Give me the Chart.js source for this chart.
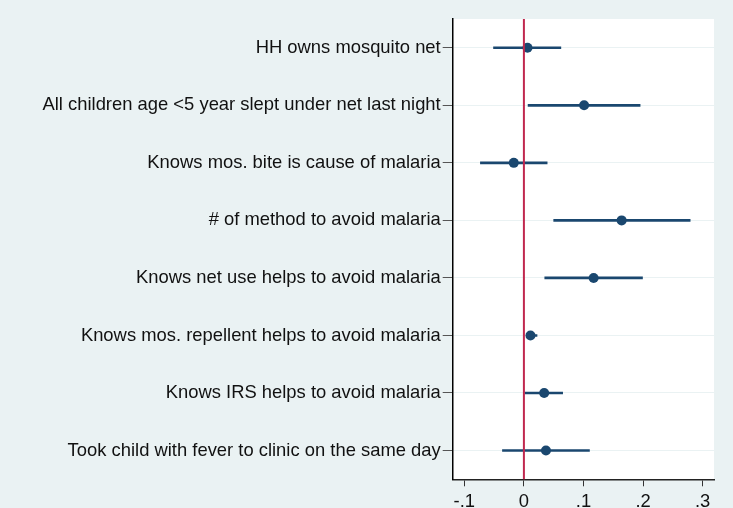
<!DOCTYPE html>
<html>
<head>
<meta charset="utf-8">
<script src="https://cdn.jsdelivr.net/npm/chart.js@4.4.0/dist/chart.umd.min.js"></script>
<style>
    html, body { margin: 0; padding: 0; background: #eaf2f3; overflow: hidden; }
    #wrap { width: 733px; height: 508px; }
</style>
</head>
<body>
<div id="wrap"><canvas id="coefChart"></canvas></div>
<script>
// =====================
// DATOS
// =====================
const categorias = [
    "HH owns mosquito net",
    "All children age <5 year slept under net last night",
    "Knows mos. bite is cause of malaria",
    "# of method to avoid malaria",
    "Knows net use helps to avoid malaria",
    "Knows mos. repellent helps to avoid malaria",
    "Knows IRS helps to avoid malaria",
    "Took child with fever to clinic on the same day"
];
const coef    = [0.006, 0.101, -0.017, 0.164, 0.117, 0.011, 0.034, 0.037];
const ciBajo  = [-0.051, 0.007, -0.073, 0.050, 0.035, 0.004, 0.002, -0.036];
const ciAlto  = [0.062, 0.195, 0.039, 0.279, 0.199, 0.022, 0.065, 0.110];
const xTicks  = [-0.1, 0, 0.1, 0.2, 0.3];

// =====================
// PLUGINS
// =====================
const fondoBlanco = {
    id: "fondoBlanco",
    beforeDraw(chart) {
        const { ctx, chartArea: a } = chart;
        ctx.save();
        ctx.fillStyle = "#ffffff";
        ctx.fillRect(a.left, a.top, a.right - a.left, a.bottom - a.top);
        ctx.restore();
    }
};

const lineaCero = {
    id: "lineaCero",
    afterDatasetsDraw(chart) {
        const { ctx, chartArea: a, scales } = chart;
        const x = scales.x.getPixelForValue(0);
        ctx.save();
        ctx.strokeStyle = "#c0284f";
        ctx.lineWidth = 2;
        ctx.beginPath();
        ctx.moveTo(x, a.top);
        ctx.lineTo(x, a.bottom);
        ctx.stroke();
        ctx.restore();
    }
};

// =====================
// GRAFICO
// =====================
new Chart(document.getElementById("coefChart"), {
    type: "bar",
    data: {
        labels: categorias,
        datasets: [
            {
                type: "line",
                label: "coef",
                data: coef,
                showLine: false,
                pointRadius: 5,
                pointBackgroundColor: "#1a476f",
                pointBorderColor: "#1a476f",
                pointBorderWidth: 0,
                order: 0
            },
            {
                label: "IC",
                data: ciBajo.map((lo, i) => [lo, ciAlto[i]]),
                backgroundColor: "#1a476f",
                borderWidth: 0,
                barThickness: 2,
                order: 1
            }
        ]
    },
    options: {
        indexAxis: "y",
        responsive: true,
        maintainAspectRatio: false,
        animation: false,
        layout: { padding: { top: 19, right: 19, left: 0, bottom: 0 } },
        plugins: {
            legend: { display: false },
            tooltip: { enabled: false }
        },
        scales: {
            x: {
                type: "linear",
                min: -0.1195,
                max: 0.319,
                afterBuildTicks: s => { s.ticks = xTicks.map(v => ({ value: v })); },
                afterFit: s => { s.height = 28.7; },
                grid: {
                    drawOnChartArea: false,
                    drawTicks: true,
                    tickLength: 7,
                    tickColor: "#333333"
                },
                border: { color: "#222222", width: 1.5 },
                ticks: {
                    padding: 5,
                    color: "#111111",
                    font: { family: "Liberation Sans, Arial, sans-serif", size: 18.4 },
                    callback: v => v === 0 ? "0" : String(v.toFixed(1)).replace("0.", ".")
                }
            },
            y: {
                type: "category",
                offset: true,
                afterFit: s => { s.width = 452.7; },
                grid: {
                    offset: false,
                    color: "#eaf2f3",
                    lineWidth: 1,
                    tickLength: 10,
                    tickColor: "#555555"
                },
                border: { color: "#000000", width: 1.5 },
                ticks: {
                    padding: 2,
                    color: "#111111",
                    font: { family: "Liberation Sans, Arial, sans-serif", size: 18.4 }
                }
            }
        }
    },
    plugins: [fondoBlanco, lineaCero]
});
</script>
</body>
</html>
